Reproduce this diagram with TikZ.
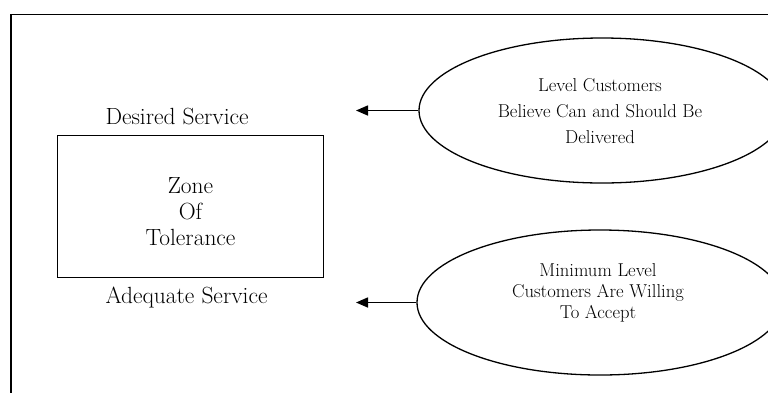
\documentclass[tikz,border=0pt]{standalone}
\usepackage{fontspec}
\usetikzlibrary{shapes.geometric,arrows.meta}
\tikzset{
  bigtxt/.style={font=\fontsize{23.5}{26.5}\selectfont,align=center},
  smalltxt/.style={font=\fontsize{18.7}{26}\selectfont,align=center},
  oval/.style={draw,ellipse,line width=1.3bp,minimum width=366bp,minimum height=145bp,inner sep=0pt},
  zonebox/.style={draw,line width=1bp,minimum width=265bp,minimum height=142bp,inner sep=0pt},
  pointer/.style={line width=1.6bp,-{Triangle[length=12bp,width=10bp]}},
}
\begin{document}
\begin{tikzpicture}[x=1bp,y=-1bp]
\useasboundingbox (0,0) rectangle (768,392);
\clip (0,0) rectangle (768,392);
% outer frame, runs off the right and bottom edges
\draw[line width=1.5bp] (11,14.5) rectangle (790,410);
% zone of tolerance
\node[zonebox] (zone) at (190.5,206) {};
\node[bigtxt] (zonetxt) at (190.5,211.5) {Zone\\Of\\Tolerance};
\node[bigtxt,anchor=west] (desired) at (102,116) {Desired Service};
\node[bigtxt,anchor=west] (adequate) at (102,297) {Adequate Service};
% the two levels
\node[oval] (hi) at (602,110.5) {};
\node[smalltxt] (hitxt) at (600,111) {Level Customers\\Believe Can and Should Be\\Delivered};
\node[oval] (lo) at (600,302.5) {};
\node[smalltxt,font=\fontsize{18.7}{21}\selectfont] (lotxt) at (598,293) {Minimum Level\\Customers Are Willing\\To Accept};
\coordinate (hitip) at (356,110.5);
\coordinate (lotip) at (356,302.5);
\draw[pointer] (hi.west) -- (hitip);
\draw[pointer] (lo.west) -- (lotip);
\end{tikzpicture}
\end{document}
